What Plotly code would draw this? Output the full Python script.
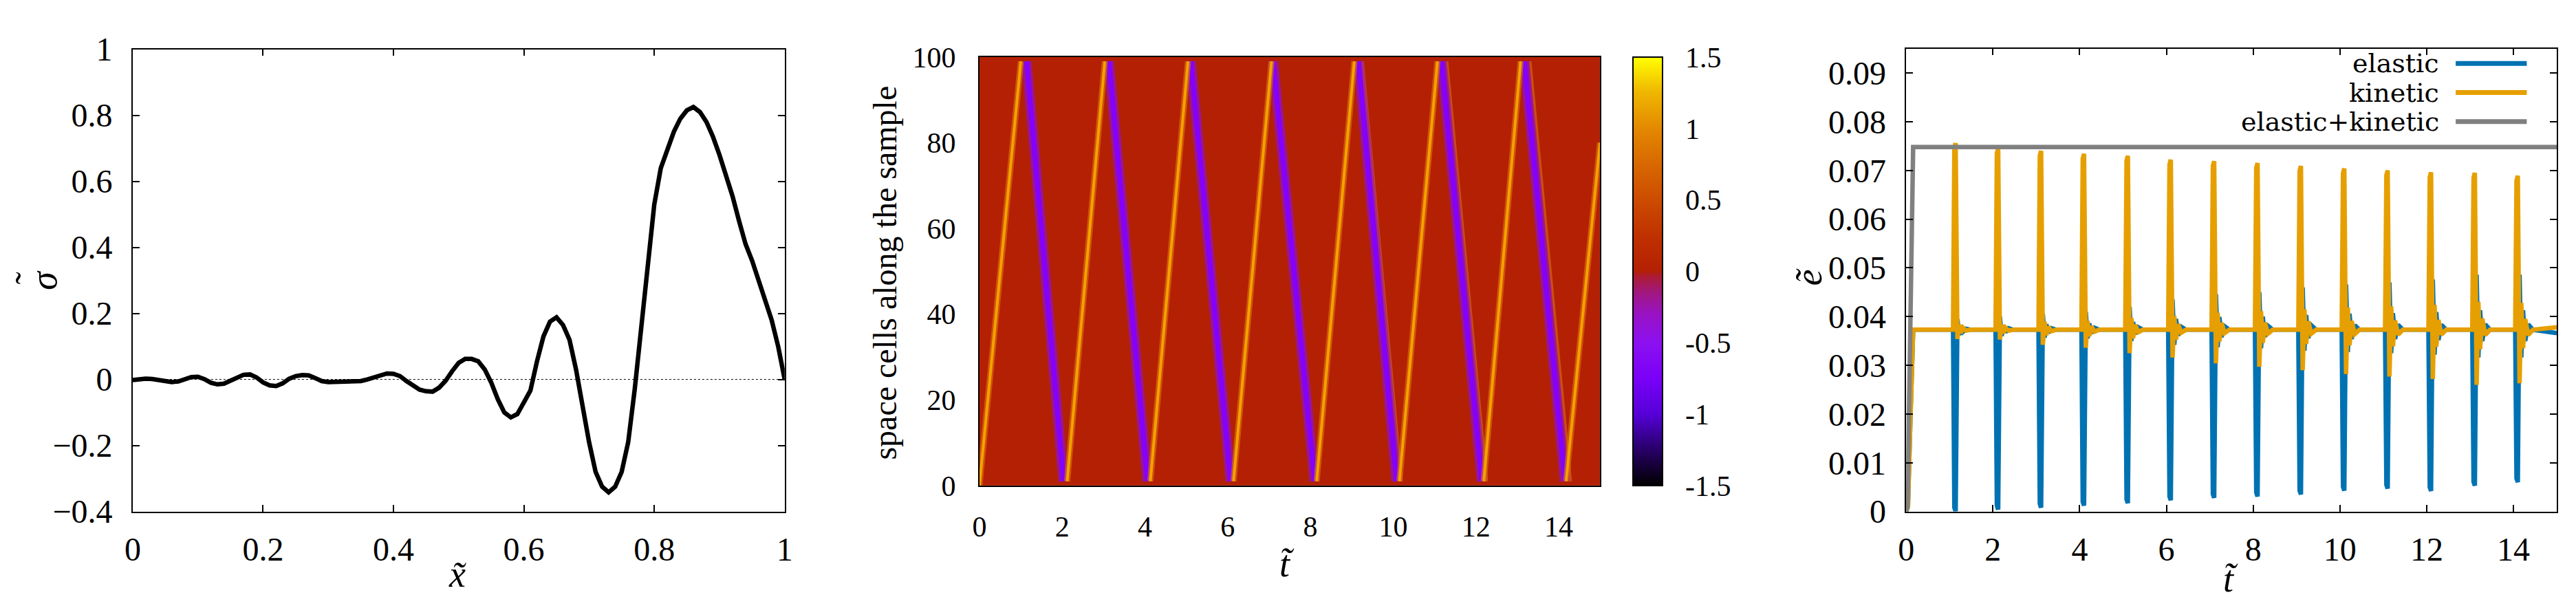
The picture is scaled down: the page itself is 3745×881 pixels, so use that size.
import plotly.graph_objects as go

FONT = "Liberation Serif"
W, H = 3745, 881

# ---------------- left panel: stress profile along the sample ----------------
X_POS = [0.00, 0.01, 0.02, 0.03, 0.04, 0.05, 0.06, 0.07, 0.08, 0.09,
         0.10, 0.11, 0.12, 0.13, 0.14, 0.15, 0.16, 0.17, 0.18, 0.19,
         0.20, 0.21, 0.22, 0.23, 0.24, 0.25, 0.26, 0.27, 0.28, 0.29,
         0.30, 0.31, 0.32, 0.33, 0.34, 0.35, 0.36, 0.37, 0.38, 0.39,
         0.40, 0.41, 0.42, 0.43, 0.44, 0.45, 0.46, 0.47, 0.48, 0.49,
         0.50, 0.51, 0.52, 0.53, 0.54, 0.55, 0.56, 0.57, 0.58, 0.59,
         0.60, 0.61, 0.62, 0.63, 0.64, 0.65, 0.66, 0.67, 0.68, 0.69,
         0.70, 0.71, 0.72, 0.73, 0.74, 0.75, 0.76, 0.77, 0.78, 0.79,
         0.80, 0.81, 0.82, 0.83, 0.84, 0.85, 0.86, 0.87, 0.88, 0.89,
         0.90, 0.91, 0.92, 0.93, 0.94, 0.95, 0.96, 0.97, 0.98, 0.99, 1.00]
SIGMA = [-0.002, 0.001, 0.002, 0.001, -0.003, -0.006, -0.008, -0.006, 0.000, 0.007,
         0.008, 0.001, -0.010, -0.015, -0.013, -0.004, 0.008, 0.014, 0.015, 0.006,
         -0.009, -0.018, -0.020, -0.012, 0.002, 0.010, 0.013, 0.012, 0.004, -0.005,
         -0.008, -0.008, -0.008, -0.008, -0.008, -0.005, 0.000, 0.007, 0.013, 0.018,
         0.017, 0.010, -0.005, -0.020, -0.031, -0.036, -0.037, -0.025, -0.004, 0.025,
         0.050, 0.062, 0.062, 0.055, 0.030, -0.010, -0.060, -0.100, -0.115, -0.105,
         -0.070, -0.034, 0.054, 0.130, 0.175, 0.188, 0.165, 0.120, 0.030, -0.090,
         -0.190, -0.280, -0.325, -0.342, -0.325, -0.280, -0.190, -0.030, 0.150, 0.340,
         0.530, 0.640, 0.700, 0.750, 0.790, 0.815, 0.825, 0.810, 0.780, 0.735,
         0.680, 0.620, 0.555, 0.480, 0.410, 0.360, 0.300, 0.245, 0.180, 0.100, 0.000]

# ---------------- middle panel: stress fronts in the (t, cell) plane ----------------
BACKGROUND = [[0.0]]          # field away from the fronts
UP_T = [[0.00, 1.00], [2.12, 3.03], [4.13, 5.04], [6.14, 7.06],
        [8.15, 9.06], [10.15, 11.07], [12.19, 13.08], [14.18, 15.00]]
UP_CELL = [[0, 99], [1, 99], [1, 99], [1, 99],
           [1, 99], [1, 99], [1, 99], [1, 80]]
DOWN_T = [[1.14, 2.03], [3.13, 4.06], [5.11, 6.07], [7.10, 8.10],
          [9.16, 10.08], [11.17, 12.14], [13.17, 14.15]]
DOWN_CELL = [[99, 1], [99, 1], [99, 1], [99, 1], [99, 1], [99, 1], [99, 1]]
# weak trailing fronts that show up in the late cycles
TRAIL_T = [[9.26, 10.20], [11.30, 12.26], [13.31, 14.29]]
TRAIL_CELL = [[99, 1], [99, 1], [99, 1]]
CB_TICKS = [-1.5, -1, -0.5, 0, 0.5, 1, 1.5]
CB_TEXT = ["-1.5", "-1", "-0.5", "0", "0.5", "1", "1.5"]
PALETTE = [[0.0, "#000000"], [0.06, "#1c0048"], [0.12, "#3a0098"],
           [0.1667, "#5600d8"], [0.25, "#7a00f8"], [0.333, "#8c10f0"],
           [0.40, "#9812c4"], [0.45, "#a01880"], [0.49, "#ad1c30"],
           [0.5, "#b42004"], [0.58, "#bf3000"], [0.667, "#cc4c00"],
           [0.75, "#d86800"], [0.833, "#e38800"], [0.92, "#f0b800"],
           [1.0, "#ffff00"]]

# ---------------- right panel: energies ----------------
T_E = [0.00, 0.04, 0.10, 0.16,
       1.08, 1.11, 1.14, 1.18, 1.22, 1.26, 1.31, 1.38, 1.49,
       2.06, 2.09, 2.12, 2.16, 2.20, 2.24, 2.29, 2.36, 2.47,
       3.05, 3.08, 3.11, 3.15, 3.19, 3.23, 3.28, 3.35, 3.46,
       4.04, 4.07, 4.10, 4.14, 4.18, 4.22, 4.27, 4.34, 4.45,
       5.05, 5.08, 5.11, 5.15, 5.19, 5.23, 5.28, 5.35, 5.46,
       6.04, 6.07, 6.10, 6.14, 6.18, 6.22, 6.27, 6.34, 6.45,
       7.04, 7.07, 7.10, 7.14, 7.18, 7.22, 7.27, 7.34, 7.45,
       8.04, 8.07, 8.10, 8.14, 8.18, 8.22, 8.27, 8.34, 8.45,
       9.04, 9.07, 9.10, 9.14, 9.18, 9.22, 9.27, 9.34, 9.45,
       10.04, 10.07, 10.10, 10.14, 10.18, 10.22, 10.27, 10.34, 10.45,
       11.04, 11.07, 11.10, 11.14, 11.18, 11.22, 11.27, 11.34, 11.45,
       12.04, 12.07, 12.10, 12.14, 12.18, 12.22, 12.27, 12.34, 12.45,
       13.05, 13.08, 13.11, 13.15, 13.19, 13.23, 13.28, 13.35, 13.46,
       14.04, 14.07, 14.10, 14.14, 14.18, 14.22, 14.27, 14.34, 14.45,
       15.00]
KINETIC = [0.0, 0.001, 0.020, 0.0373,
           0.0373, 0.0746, 0.0756, 0.0354, 0.0383, 0.0366, 0.0377, 0.0371, 0.0373,
           0.0373, 0.0735, 0.0745, 0.0353, 0.0383, 0.0366, 0.0377, 0.0371, 0.0373,
           0.0373, 0.0730, 0.0740, 0.0342, 0.0389, 0.0362, 0.0379, 0.0370, 0.0373,
           0.0373, 0.0724, 0.0734, 0.0336, 0.0391, 0.0360, 0.0380, 0.0369, 0.0373,
           0.0373, 0.0720, 0.0730, 0.0325, 0.0397, 0.0356, 0.0383, 0.0368, 0.0373,
           0.0373, 0.0712, 0.0722, 0.0316, 0.0401, 0.0353, 0.0384, 0.0367, 0.0373,
           0.0373, 0.0709, 0.0719, 0.0304, 0.0408, 0.0349, 0.0387, 0.0366, 0.0373,
           0.0373, 0.0705, 0.0715, 0.0297, 0.0411, 0.0346, 0.0388, 0.0365, 0.0373,
           0.0373, 0.0699, 0.0709, 0.0290, 0.0415, 0.0344, 0.0390, 0.0365, 0.0373,
           0.0373, 0.0694, 0.0704, 0.0282, 0.0419, 0.0341, 0.0391, 0.0364, 0.0373,
           0.0373, 0.0690, 0.0700, 0.0277, 0.0421, 0.0339, 0.0392, 0.0363, 0.0373,
           0.0373, 0.0686, 0.0696, 0.0272, 0.0424, 0.0338, 0.0393, 0.0363, 0.0373,
           0.0373, 0.0685, 0.0695, 0.0260, 0.0430, 0.0333, 0.0396, 0.0362, 0.0373,
           0.0373, 0.0679, 0.0689, 0.0263, 0.0428, 0.0335, 0.0395, 0.0362, 0.0373,
           0.0378]
ELASTIC = [0.0, 0.001, 0.020, 0.0373,
           0.0373, 0.0008, 0.0000, 0.0395, 0.0362, 0.0381, 0.0369, 0.0375, 0.0373,
           0.0373, 0.0012, 0.0004, 0.0400, 0.0360, 0.0382, 0.0368, 0.0376, 0.0373,
           0.0373, 0.0016, 0.0008, 0.0405, 0.0357, 0.0384, 0.0367, 0.0376, 0.0373,
           0.0373, 0.0020, 0.0012, 0.0410, 0.0355, 0.0386, 0.0366, 0.0377, 0.0373,
           0.0373, 0.0025, 0.0017, 0.0420, 0.0350, 0.0389, 0.0364, 0.0378, 0.0373,
           0.0373, 0.0031, 0.0023, 0.0435, 0.0342, 0.0395, 0.0361, 0.0379, 0.0373,
           0.0373, 0.0036, 0.0028, 0.0446, 0.0337, 0.0399, 0.0358, 0.0380, 0.0373,
           0.0373, 0.0039, 0.0031, 0.0450, 0.0335, 0.0400, 0.0358, 0.0381, 0.0373,
           0.0373, 0.0043, 0.0035, 0.0460, 0.0330, 0.0403, 0.0356, 0.0382, 0.0373,
           0.0373, 0.0051, 0.0043, 0.0466, 0.0327, 0.0406, 0.0354, 0.0382, 0.0373,
           0.0373, 0.0055, 0.0047, 0.0470, 0.0325, 0.0407, 0.0354, 0.0383, 0.0373,
           0.0373, 0.0050, 0.0042, 0.0476, 0.0322, 0.0409, 0.0352, 0.0383, 0.0373,
           0.0373, 0.0061, 0.0053, 0.0486, 0.0316, 0.0413, 0.0350, 0.0384, 0.0373,
           0.0373, 0.0068, 0.0060, 0.0486, 0.0316, 0.0413, 0.0350, 0.0384, 0.0373,
           0.0366]
T_TOTAL = [0.00, 0.03, 0.16, 15.00]
TOTAL = [0.0, 0.001, 0.0748, 0.0748]
SERIES = [("elastic", "#0072b2"), ("kinetic", "#e69f00"), ("elastic+kinetic", "#808080")]


def px_x(p):
    return p / W


def px_y(p):
    return 1 - p / H


def join(segs):
    out = []
    for s in segs:
        out += list(s) + [None]
    return out


fig = go.Figure()

# left
fig.add_trace(go.Scatter(x=X_POS, y=SIGMA, mode="lines", xaxis="x", yaxis="y",
                         line=dict(color="black", width=6.5)))
fig.add_shape(type="line", xref="x domain", yref="y", x0=0, x1=1, y0=0, y1=0,
              line=dict(color="black", width=1, dash="dot"))

# middle
fig.add_trace(go.Heatmap(z=BACKGROUND, x0=7.5, dx=15, y0=50, dy=100,
                         xaxis="x2", yaxis="y2", colorscale=PALETTE,
                         zmin=-1.5, zmax=1.5, hoverinfo="skip",
                         colorbar=dict(x=px_x(2369), xanchor="left", xpad=0,
                                       y=px_y(715), yanchor="bottom", ypad=0,
                                       len=(715 - 52) / H, lenmode="fraction",
                                       thickness=43, thicknessmode="pixels",
                                       outlinewidth=2, outlinecolor="black",
                                       tickvals=CB_TICKS, ticktext=CB_TEXT,
                                       ticks="outside", ticklen=24,
                                       tickcolor="rgba(0,0,0,0)",
                                       tickfont=dict(family=FONT, size=42, color="black"))))
fig.add_trace(go.Scatter(x=join(TRAIL_T), y=join(TRAIL_CELL), mode="lines",
                         xaxis="x2", yaxis="y2",
                         line=dict(color="rgba(226,120,10,0.55)", width=4)))
for segs_t, segs_c, outer, inner, w_out, w_in in (
        (DOWN_T, DOWN_CELL, "rgba(140,16,224,0.6)", "#8400ff", 15, 7),
        (UP_T, UP_CELL, "rgba(222,110,10,0.65)", "#f2a200", 9, 4)):
    fig.add_trace(go.Scatter(x=join(segs_t), y=join(segs_c), mode="lines",
                             xaxis="x2", yaxis="y2", line=dict(color=outer, width=w_out)))
    fig.add_trace(go.Scatter(x=join(segs_t), y=join(segs_c), mode="lines",
                             xaxis="x2", yaxis="y2", line=dict(color=inner, width=w_in)))
# colorbar tick marks drawn inside the bar on both edges
for v in CB_TICKS[1:-1]:
    yy = px_y(715) + (v + 1.5) / 3 * (715 - 52) / H
    for x0, x1 in ((2369, 2378), (2403, 2412)):
        fig.add_shape(type="line", xref="paper", yref="paper", x0=px_x(x0), x1=px_x(x1),
                      y0=yy, y1=yy, line=dict(color="black", width=1.5))

# right
fig.add_trace(go.Scatter(x=T_E, y=ELASTIC, mode="lines", xaxis="x3", yaxis="y3",
                         line=dict(color=SERIES[0][1], width=6.5)))
fig.add_trace(go.Scatter(x=T_E, y=KINETIC, mode="lines", xaxis="x3", yaxis="y3",
                         line=dict(color=SERIES[1][1], width=6.5)))
fig.add_trace(go.Scatter(x=T_TOTAL, y=TOTAL, mode="lines", xaxis="x3", yaxis="y3",
                         line=dict(color=SERIES[2][1], width=6.5)))

tick_font = dict(family=FONT, size=48, color="black")
frame = dict(showline=True, linecolor="black", linewidth=1.5, mirror="allticks",
             ticks="inside", ticklen=10, tickcolor="black", tickwidth=1.5,
             showgrid=False, zeroline=False, tickfont=tick_font)

fig.update_layout(
    width=W, height=H, margin=dict(l=0, r=0, t=0, b=0),
    font=dict(family=FONT, color="black"),
    paper_bgcolor="white", plot_bgcolor="white", showlegend=False,
    xaxis=dict(domain=[px_x(174), px_x(1128)], range=[0, 1], dtick=0.2,
               anchor="y", ticklabelstandoff=12, **frame),
    yaxis=dict(domain=[px_y(755), px_y(40)], range=[-0.4, 1], dtick=0.2,
               anchor="x", ticklabelstandoff=18, **frame),
    xaxis2=dict(domain=[px_x(1413), px_x(2321)], range=[0, 15], dtick=2,
                anchor="y2", showline=True, linecolor="black", linewidth=2,
                mirror=True, ticks="", showgrid=False, zeroline=False,
                ticklabelstandoff=22, tickfont=dict(family=FONT, size=42, color="black")),
    yaxis2=dict(domain=[px_y(715), px_y(52)], range=[0, 100], dtick=20,
                anchor="x2", showline=True, linecolor="black", linewidth=2,
                mirror=True, ticks="", showgrid=False, zeroline=False,
                ticklabelstandoff=24, tickfont=dict(family=FONT, size=42, color="black")),
    xaxis3=dict(domain=[px_x(2769), px_x(3721)], range=[0, 15], dtick=2,
                anchor="y3", ticklabelstandoff=12, **frame),
    yaxis3=dict(domain=[px_y(755), px_y(39)], range=[0, 0.095], dtick=0.01,
                anchor="x3", ticklabelstandoff=18, **frame),
)

title_font = dict(family=FONT, size=54, color="black")
titles = [
    ("<i>σ</i>", 44, 397, -90),
    ("˜", 22, 394, -90),
    ("<i>x̃</i>", 650, 852, 0),
    ("<i>t̃</i>", 1863, 836, 0),
    ("<i>ẽ</i>", 2627, 393, -90),
    ("<i>t̃</i>", 3244, 860, 0),
]
for text, x, y, ang in titles:
    fig.add_annotation(text=text, x=px_x(x), y=px_y(y), xref="paper", yref="paper",
                       showarrow=False, textangle=ang, xanchor="center", yanchor="middle",
                       font=title_font)
fig.add_annotation(text="space cells along the sample", x=px_x(1275), y=px_y(386),
                   xref="paper", yref="paper", showarrow=False, textangle=-90,
                   font=dict(family=FONT, size=48, color="black"))

# legend drawn gnuplot style: label, then line sample
for (name, color), y in zip(SERIES, (62, 107, 152)):
    fig.add_annotation(text=name, x=px_x(3550), y=px_y(y), xref="paper", yref="paper",
                       showarrow=False, xanchor="right", yanchor="middle", borderpad=0,
                       font=dict(family="DejaVu Serif", size=38, color="black"))
    fig.add_shape(type="line", xref="paper", yref="paper", x0=px_x(3573), x1=px_x(3677),
                  y0=px_y(y), y1=px_y(y), line=dict(color=color, width=7))

fig.write_html("out.html")
